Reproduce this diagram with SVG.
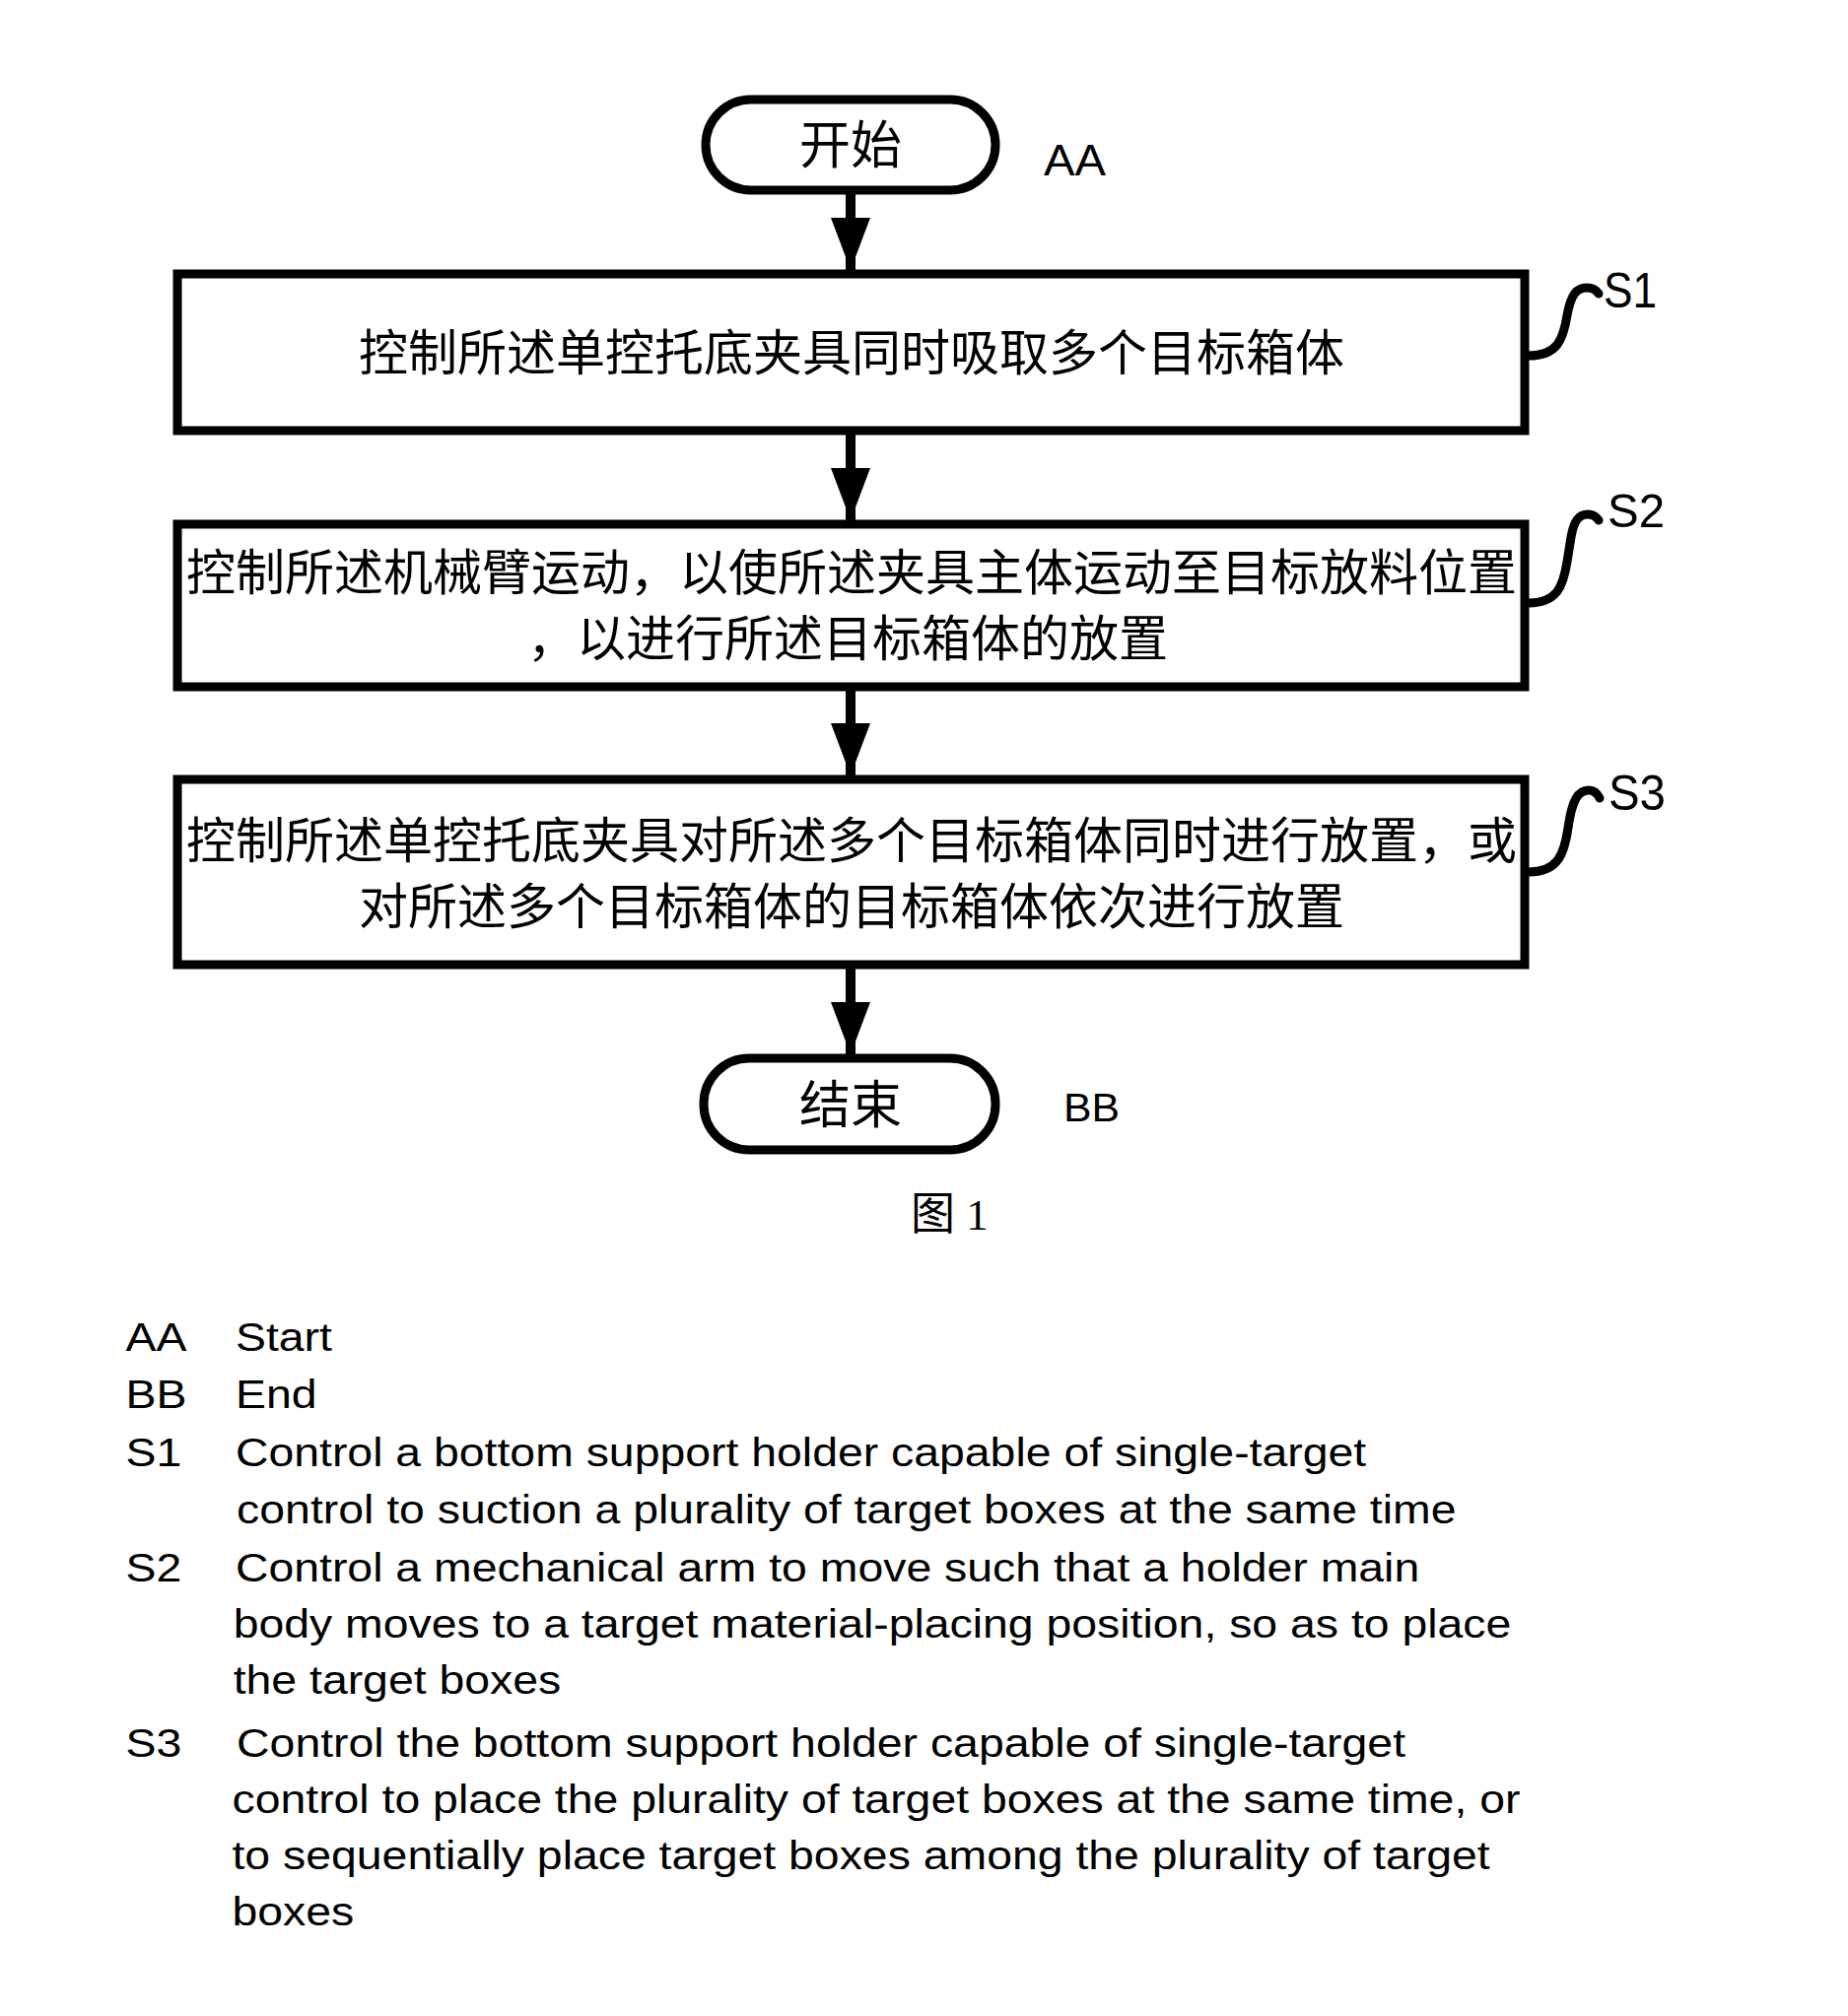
<svg xmlns="http://www.w3.org/2000/svg" width="1875" height="2046" viewBox="0 0 1875 2046">
<style>
.shape{fill:#fff;stroke:#000;stroke-width:9}
.cn{font-family:"Noto Sans CJK SC","Noto Sans",sans-serif;font-size:50px;fill:#000}
.term{font-family:"Noto Sans CJK SC","Noto Sans",sans-serif;font-size:52px;fill:#000;text-anchor:middle}
.lbl{font-family:"Liberation Sans",Arial,sans-serif;fill:#000}
.leg{font-family:"Liberation Sans",Arial,sans-serif;font-size:40px;fill:#000}
.conn{stroke:#000;stroke-width:10;fill:none}
.curl{stroke:#000;stroke-width:9;fill:none;stroke-linecap:round}
</style>
<defs>
<marker id="ah" markerUnits="userSpaceOnUse" viewBox="0 0 53 40" refX="53" refY="20" markerWidth="53" markerHeight="40" orient="auto">
<path d="M0,0 L53,20 L0,40 Z" fill="#000"/>
</marker>
</defs>
<rect width="1875" height="2046" fill="#fff"/>

<g id="start">
<rect class="shape" x="716" y="101" width="294" height="92" rx="46"/>
<text class="term" x="863" y="166">开始</text>
<text class="lbl" x="1059" y="178" font-size="44" textLength="63" lengthAdjust="spacingAndGlyphs">AA</text>
</g>

<g id="s1">
<rect class="shape" x="180" y="278" width="1367" height="159"/>
<text class="cn" x="864" y="376" text-anchor="middle">控制所述单控托底夹具同时吸取多个目标箱体</text>
<path class="curl" d="M1551,361 C1580,361 1586,345 1590,320 C1594,298 1600,292 1610,292 C1616,292 1620,295 1622,298"/>
<text class="lbl" x="1627" y="312" font-size="50" textLength="54" lengthAdjust="spacingAndGlyphs">S1</text>
</g>

<g id="s2">
<rect class="shape" x="180" y="532" width="1367" height="165"/>
<text class="cn" x="864" y="599" text-anchor="middle">控制所述机械臂运动，以使所述夹具主体运动至目标放料位置</text>
<text class="cn" x="860" y="666" text-anchor="middle">，以进行所述目标箱体的放置</text>
<path class="curl" d="M1551,612 C1580,612 1586,595 1590,570 L1594,545 C1597,528 1602,522 1611,522 C1616,522 1620,525 1622,528"/>
<text class="lbl" x="1631" y="535" font-size="49" textLength="58" lengthAdjust="spacingAndGlyphs">S2</text>
</g>

<g id="s3">
<rect class="shape" x="180" y="791" width="1367" height="188"/>
<text class="cn" x="864" y="871" text-anchor="middle">控制所述单控托底夹具对所述多个目标箱体同时进行放置，或</text>
<text class="cn" x="864" y="938" text-anchor="middle">对所述多个目标箱体的目标箱体依次进行放置</text>
<path class="curl" d="M1551,885 C1580,885 1587,868 1591,840 C1595,812 1601,802 1612,802 C1617,802 1621,806 1623,810"/>
<text class="lbl" x="1632" y="822" font-size="50" textLength="58" lengthAdjust="spacingAndGlyphs">S3</text>
</g>

<g id="end">
<rect class="shape" x="714" y="1074" width="296" height="93" rx="46"/>
<text class="term" x="863" y="1140">结束</text>
<text class="lbl" x="1079" y="1138" font-size="40" textLength="57" lengthAdjust="spacingAndGlyphs">BB</text>
</g>

<g id="connectors">
<line class="conn" x1="863" y1="193" x2="863" y2="274" marker-end="url(#ah)"/>
<line class="conn" x1="863" y1="437" x2="863" y2="528" marker-end="url(#ah)"/>
<line class="conn" x1="863" y1="697" x2="863" y2="787" marker-end="url(#ah)"/>
<line class="conn" x1="863" y1="979" x2="863" y2="1070" marker-end="url(#ah)"/>
</g>

<g id="caption">
<text x="924" y="1248" font-family="'Liberation Serif','Noto Sans CJK SC',serif" font-size="45" fill="#000">图 1</text>
</g>

<g id="legend" transform="scale(1.16 1)">
<text class="leg" x="110" y="1371">AA</text><text class="leg" x="206" y="1371">Start</text>
<text class="leg" x="110" y="1429">BB</text><text class="leg" x="206" y="1429">End</text>
<text class="leg" x="110" y="1488">S1</text><text class="leg" x="206" y="1488">Control a bottom support holder capable of single-target</text>
<text class="leg" x="207" y="1546">control to suction a plurality of target boxes at the same time</text>
<text class="leg" x="110" y="1605">S2</text><text class="leg" x="206" y="1605">Control a mechanical arm to move such that a holder main</text>
<text class="leg" x="204" y="1662">body moves to a target material-placing position, so as to place</text>
<text class="leg" x="204" y="1719">the target boxes</text>
<text class="leg" x="110" y="1783">S3</text><text class="leg" x="207" y="1783">Control the bottom support holder capable of single-target</text>
<text class="leg" x="203" y="1840">control to place the plurality of target boxes at the same time, or</text>
<text class="leg" x="203" y="1897">to sequentially place target boxes among the plurality of target</text>
<text class="leg" x="203" y="1954">boxes</text>
</g>
</svg>
